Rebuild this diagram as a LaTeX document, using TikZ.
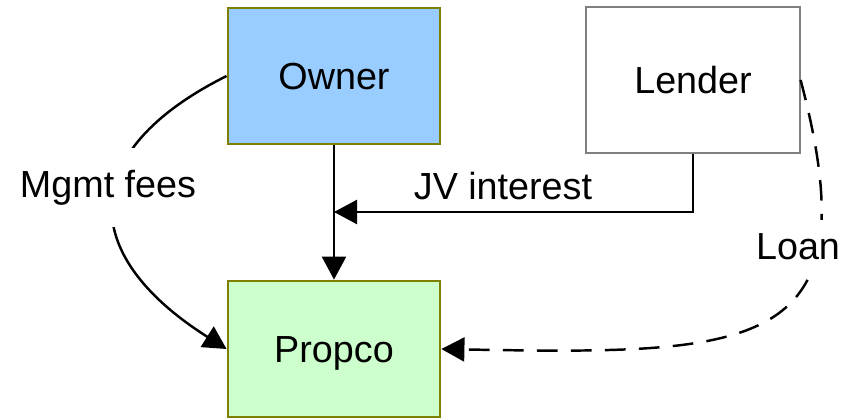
\documentclass[tikz,border=0pt]{standalone}
\usepackage{fontspec}
\setmainfont{Liberation Sans}
\usepackage{xcolor}
\usetikzlibrary{arrows.meta}
\definecolor{JVBlue}{HTML}{99CCFF}
\definecolor{JVGreen}{HTML}{CCFFCC}
\definecolor{JVOlive}{HTML}{808000}
\definecolor{JVGrey}{HTML}{808080}
\tikzset{
  box/.style={draw=JVOlive,line width=2.4pt,minimum width=6.36cm,minimum height=4.08cm,
    text height=0.81cm,text depth=0pt,inner sep=0pt},
  flow/.style={line width=2.1pt,-{Triangle[length=0.69cm,width=0.72cm]}},
  lbl/.style={anchor=base,inner xsep=4pt,inner ysep=0pt}
}

\begin{document}
\begin{tikzpicture}[x=0.03cm,y=-0.03cm,font=\fontsize{32.2pt}{38pt}\selectfont]
\path[use as bounding box] (0,0) rectangle (849,418);
\node[box,fill=JVBlue] (owner) at (334,76) {Owner};
\node[box,draw=JVGrey,line width=1pt,minimum width=6.42cm,minimum height=4.38cm] (lender) at (693,80) {Lender};
\node[box,fill=JVGreen] (propco) at (334,349) {Propco};
\coordinate (join) at (334,212);
\draw[flow] (owner) -- (propco);
\draw[flow] (lender.south) |- (join);
\draw[flow] (owner.west) .. controls +(-150,75) and +(-150,-95) .. (propco.west);
\draw[flow,dash pattern=on 0.62cm off 0.4cm] (lender.east) .. controls +(72,272) and +(319,6) .. (propco.east);
\node[lbl,fill=white,inner ysep=0.66cm] (mgmt) at (108,197) {Mgmt fees};
\node[lbl] (jv) at (503,199) {JV interest};
\node[lbl,fill=white,inner ysep=0.4cm] (loan) at (798,259) {Loan};
\end{tikzpicture}
\end{document}
